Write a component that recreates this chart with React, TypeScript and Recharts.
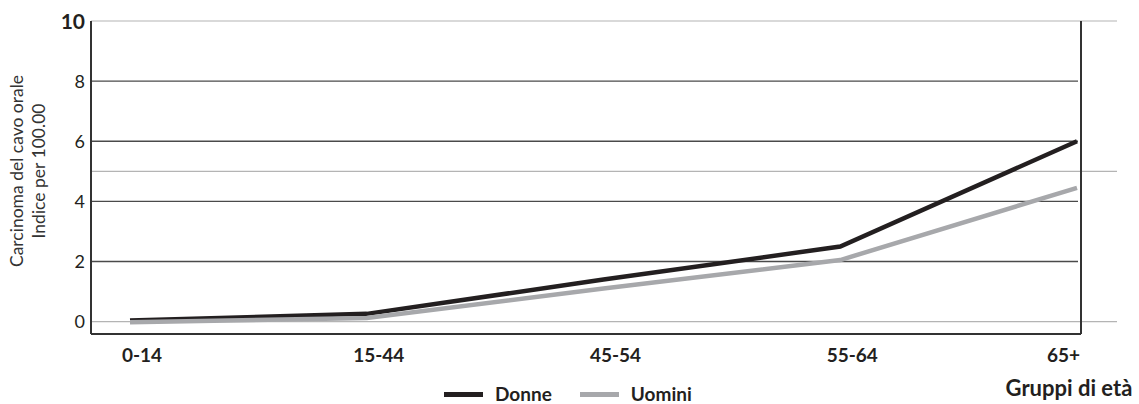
import { CartesianGrid, Label, Line, LineChart, ReferenceLine, XAxis, YAxis } from "recharts";

const AGE_GROUPS = ["0-14", "15-44", "45-54", "55-64", "65+"];
const DONNE = [0.04, 0.26, 1.4, 2.5, 6.0];
const UOMINI = [-0.02, 0.12, 1.1, 2.05, 4.45];
const Y_TICKS = [0, 2, 4, 6, 8, 10];
const DARK_GRID = [2, 4, 6, 8];
const LIGHT_GRID = [0, 5, 10];

const FONT = "Lato, 'Open Sans', sans-serif";
const INK = "#231f20";
const GREY = "#a7a8ab";

const SERIES = [
  { key: "donne", name: "Donne", color: INK },
  { key: "uomini", name: "Uomini", color: GREY },
];

const data = AGE_GROUPS.map((age, i) => ({ age, donne: DONNE[i], uomini: UOMINI[i] }));

function AgeTick({ x, y, payload, index }: any) {
  const last = index === AGE_GROUPS.length - 1;
  return (
    <text
      x={last ? x + 3 : x + 12}
      y={y + 20}
      textAnchor={last ? "end" : "middle"}
      fontFamily={FONT}
      fontWeight={700}
      fontSize={19}
      fill={INK}
    >
      {payload.value}
    </text>
  );
}

function ValueTick({ x, y, payload }: any) {
  const top = payload.value === 10;
  return (
    <text
      x={x + 2}
      y={y}
      dy="0.36em"
      textAnchor="end"
      fontFamily={FONT}
      fontWeight={top ? 700 : 400}
      fontSize={top ? 21 : 18}
      fill={INK}
    >
      {payload.value}
    </text>
  );
}

// light reference lines run past the right frame
function LongLine({ x1, y1, x2, y2 }: any) {
  return <line x1={x1} y1={y1} x2={x2 + 36} y2={y2} stroke="#b4b4b4" strokeWidth={1.2} />;
}

function ShortLine({ x1, y1, x2, y2 }: any) {
  return <line x1={x1} y1={y1} x2={x2 - 3} y2={y2} stroke="#4a4a4a" strokeWidth={1.4} />;
}

function AxisTitle() {
  return (
    <g fontFamily={FONT} fontSize={17.5} fill="#333">
      <text x={17} y={171} transform="rotate(-90 17 171)" textAnchor="middle" dy="0.35em">
        Carcinoma del cavo orale
      </text>
      <text x={39} y={171} transform="rotate(-90 39 171)" textAnchor="middle" dy="0.35em">
        Indice per 100.00
      </text>
    </g>
  );
}

function AgeTitle() {
  return (
    <text x={1069} y={396} textAnchor="middle" fontFamily={FONT} fontWeight={700} fontSize={22} fill={INK}>
      Gruppi di età
    </text>
  );
}

function SeriesKey() {
  return (
    <div
      style={{
        position: "absolute",
        left: 444,
        top: 384,
        display: "flex",
        alignItems: "center",
        fontFamily: FONT,
        fontWeight: 700,
        fontSize: 19,
        lineHeight: "20px",
        color: INK,
      }}
    >
      {SERIES.map((s) => (
        <div key={s.key} style={{ display: "flex", alignItems: "center", marginRight: 28 }}>
          <span style={{ display: "inline-block", width: 39, height: 5, background: s.color, marginRight: 12 }} />
          <span>{s.name}</span>
        </div>
      ))}
    </div>
  );
}

export default function App() {
  return (
    <div style={{ position: "absolute", left: 0, top: 0, width: 1139, height: 404, background: "#fff" }}>
      <LineChart width={1139} height={404} data={data} margin={{ top: 21, right: 0, bottom: 40, left: 0 }}>
        <CartesianGrid horizontal={false} vertical={false} />
        <XAxis
          dataKey="age"
          height={30}
          padding={{ left: 39, right: 4 }}
          tick={<AgeTick />}
          tickLine={false}
          axisLine={{ stroke: "#333", strokeWidth: 2 }}
          interval={0}
        >
          <Label content={<AgeTitle />} />
        </XAxis>
        <YAxis
          width={91}
          domain={[-0.41, 10]}
          ticks={Y_TICKS}
          tick={<ValueTick />}
          tickLine={false}
          axisLine={{ stroke: "#333", strokeWidth: 2 }}
          allowDataOverflow
        >
          <Label content={<AxisTitle />} />
        </YAxis>
        <YAxis
          yAxisId="frame"
          orientation="right"
          width={58}
          domain={[-0.41, 10]}
          tick={false}
          tickLine={false}
          axisLine={{ stroke: "#333", strokeWidth: 2 }}
        />
        {DARK_GRID.map((v) => (
          <ReferenceLine key={`d${v}`} y={v} shape={<ShortLine />} />
        ))}
        {LIGHT_GRID.map((v) => (
          <ReferenceLine key={`l${v}`} y={v} shape={<LongLine />} />
        ))}
        {SERIES.map((s) => (
          <Line
            key={s.key}
            dataKey={s.key}
            name={s.name}
            stroke={s.color}
            strokeWidth={4.5}
            dot={false}
            activeDot={false}
            isAnimationActive={false}
          />
        ))}
      </LineChart>
      <SeriesKey />
    </div>
  );
}
